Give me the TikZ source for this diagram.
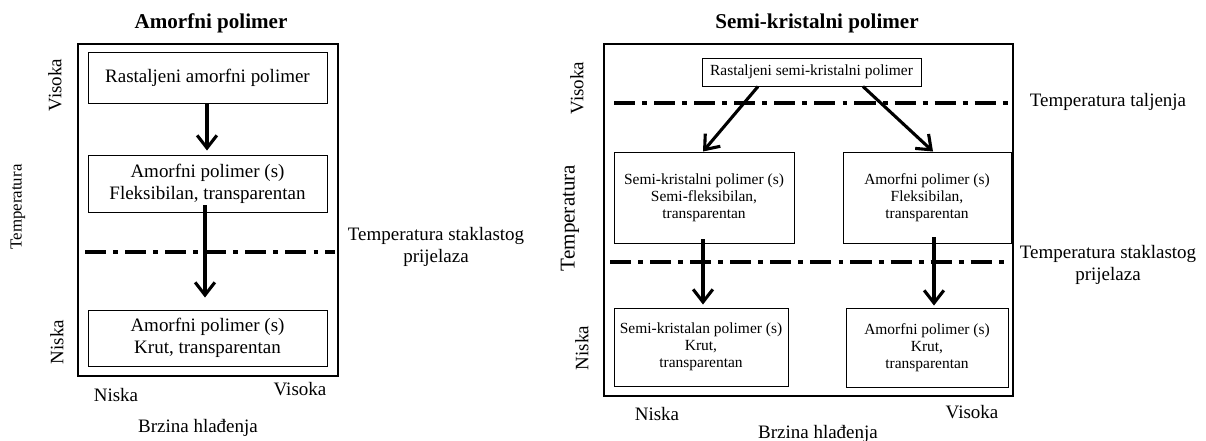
\documentclass[tikz,border=0pt]{standalone}
\usepackage{fontspec}
\setmainfont{Liberation Serif}
\usetikzlibrary{arrows.meta,calc}

\begin{document}
\begin{tikzpicture}[x=0.025cm,y=-0.025cm,
  box/.style={draw,line width=0.7pt,align=center,inner sep=0pt},
  wh/.style 2 args={minimum width={#1*0.025cm},minimum height={#2*0.025cm}},
  big/.style={font=\fontsize{13.5}{15.6}\selectfont},
  sml/.style={font=\fontsize{11}{12.2}\selectfont},
  ttl/.style={font=\fontsize{15}{17}\selectfont\bfseries},
  arr/.style={line width=2.2pt,-{Straight Barb[length=9pt,width=14pt]}},
  tline/.style={line width=2.8pt,dash pattern=on 15pt off 5pt on 3.5pt off 5pt}]
\useasboundingbox (0,0) rectangle (1206,441);

%%%%%%%% amorfni
\node[ttl] (tA) at (211,23) {Amorfni polimer};
\draw[line width=2.1pt] (78,44) rectangle (338,376);

% boxes
\node[box,big,wh={239}{51}] (ra) at (207.5,77.5) {Rastaljeni amorfni polimer};
\node[box,big,wh={239}{57}] (af) at (207.5,183.5) {Amorfni polimer (s)\\Fleksibilan, transparentan};
\node[box,big,wh={239}{56}] (ak) at (207.5,338) {Amorfni polimer (s)\\Krut, transparentan};

% glass transition
\draw[tline] (85,252) -- (335,252);
\node[big,align=center] (tgA) at (436,247) {Temperatura staklastog\\prijelaza};

% arrows
\draw[arr] ($(ra.south)+(-0.5,0)$) -- ($(af.north)+(-0.5,-4)$);
\draw[arr] ($(af.south)+(-2.5,-7)$) -- ($(ak.north)+(-2.5,-12)$);

% axes
\node[big,rotate=90] (vA) at (55,85) {Visoka};
\node[font=\fontsize{12}{14}\selectfont,rotate=90] (tpA) at (18,207) {Temperatura};
\node[big,rotate=90] (nA) at (57,342) {Niska};
\node[big] (nxA) at (116,395) {Niska};
\node[big] (vxA) at (300,389) {Visoka};
\node[big] (bA) at (198,428) {Brzina hlađenja};

%%%%%%%% semi-kristalni
\node[ttl] (tS) at (817,23) {Semi-kristalni polimer};
\draw[line width=2.1pt] (604,44) rectangle (1013,396);

% boxes
\node[box,sml,wh={219}{28}] (rs) at (811.5,72) {Rastaljeni semi-kristalni polimer};
\node[box,sml,wh={180}{91}] (sf) at (704,197.5) {Semi-kristalni polimer (s)\\Semi-fleksibilan,\\transparentan};
\node[box,sml,wh={168}{91}] (af2) at (927,197.5) {Amorfni polimer (s)\\Fleksibilan,\\transparentan};
\node[box,sml,wh={174}{78}] (sk) at (701,347) {Semi-kristalan polimer (s)\\Krut,\\transparentan};
\node[box,sml,wh={162}{79}] (ak2) at (927,347.5) {Amorfni polimer (s)\\Krut,\\transparentan};

% melting and glass transition
\draw[tline] (614,103) -- (1008,103);
\draw[tline] (610,262) -- (1007,262);
\node[big] (tm) at (1108,102) {Temperatura taljenja};
\node[big,align=center,font=\fontsize{13.5}{16}\selectfont] (tgS) at (1108,265) {Temperatura staklastog\\prijelaza};

% arrows
\draw[arr] ($(rs.south)+(-53.5,0)$) -- ($(sf.north)+(-1,0)$);
\draw[arr] ($(rs.south)+(51.5,0)$) -- ($(af2.north)+(6,0)$);
\draw[arr] ($(sf.south)+(-1,-4)$) -- ($(sk.north)+(2,-3)$);
\draw[arr] ($(af2.south)+(7,-6)$) -- ($(ak2.north)+(7,-2)$);

% axes
\node[big,rotate=90] (vS) at (577,88) {Visoka};
\node[font=\fontsize{15}{17}\selectfont,rotate=90] (tpS) at (570,218) {Temperatura};
\node[big,rotate=90] (nS) at (582,348) {Niska};
\node[big] (nxS) at (657,414) {Niska};
\node[big] (vxS) at (972,412) {Visoka};
\node[big] (bS) at (818,434) {Brzina hlađenja};
\end{tikzpicture}
\end{document}
